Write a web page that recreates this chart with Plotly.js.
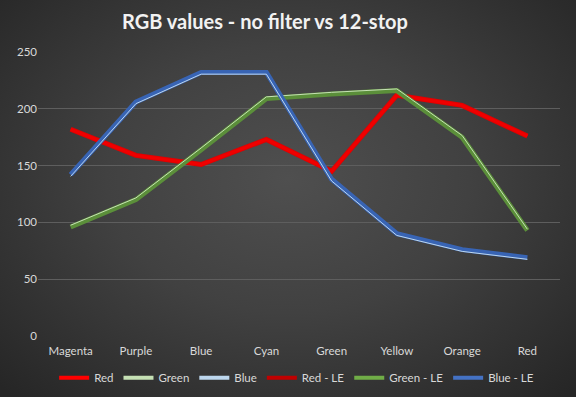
<!DOCTYPE html>
<html>
<head>
<meta charset="utf-8">
<script src="https://cdn.plot.ly/plotly-3.0.1.min.js"></script>
<style>
html,body{margin:0;padding:0;width:576px;height:397px;overflow:hidden;}
body{background:radial-gradient(ellipse 70% 75% at 50% 45%, #4f4f4f 0%, #414141 45%, #262626 100%);}
#chart{width:576px;height:397px;}
</style>
</head>
<body>
<div id="chart"></div>
<script>
const categories = ["Magenta","Purple","Blue","Cyan","Green","Yellow","Orange","Red"];
const redNoFilter   = [182, 159, 151, 173, 145, 212, 203, 176];
const greenNoFilter = [97.5, 121.5, 165.5, 210.5, 214.5, 217.5, 176.5, 94];
const blueNoFilter  = [140.5, 204.5, 230.5, 230.5, 136.5, 88.5, 74.5, 67.5];
const redLE   = [182, 159, 151, 173, 145, 212, 203, 176];
const greenLE = [96, 120, 164, 209, 213, 216, 175, 93];
const blueLE  = [142, 206, 232, 232, 138, 90, 76, 69];
const yTicks = [0, 50, 100, 150, 200, 250];
const seriesNames = ['Red', 'Green', 'Blue', 'Red - LE', 'Green - LE', 'Blue - LE'];
const legendColors = ['#ff0000', '#c5e0b4', '#bdd7ee', '#c00000', '#70ad47', '#4472c4'];

function tr(y, color, width){
  return {x: categories, y: y, type: 'scatter', mode: 'lines', showlegend: false,
    line: {color: color, width: width}};
}
const data = [
  tr(redLE, '#e00000', 5),
  tr(redNoFilter, '#f00000', 3),
  tr(greenLE, '#5b8f3a', 5),
  tr(greenNoFilter, '#c5e0b4', 1),
  tr(blueLE, '#3864b4', 5),
  tr(blueNoFilter, '#bdd7ee', 1)
];
seriesNames.forEach(function(n, i){
  data.push({x: categories, y: categories.map(function(){return null;}), name: n, type: 'scatter',
    mode: 'lines', line: {color: legendColors[i], width: 4}, showlegend: true});
});
const F = 'Lato, "Open Sans", sans-serif';
const layout = {
  width: 576, height: 397,
  paper_bgcolor: 'rgba(0,0,0,0)', plot_bgcolor: 'rgba(0,0,0,0)',
  margin: {l: 38, r: 16, t: 52, b: 61, autoexpand: false},
  title: {text: '<b>RGB values - no filter vs 12-stop</b>', x: 0.46, xanchor: 'center', y: 0.945, yanchor: 'middle',
    font: {family: F, size: 20, color: '#f2f2f2'}},
  xaxis: {type: 'category', range: [-0.5, 7.5], showgrid: false, zeroline: false, showline: false,
    ticks: 'outside', ticklen: 4, tickcolor: 'rgba(0,0,0,0)',
    tickfont: {family: F, size: 11.5, color: '#d9d9d9'}},
  yaxis: {range: [0, 250], tickvals: yTicks, showgrid: true, gridcolor: '#5e5e5e', gridwidth: 1,
    zeroline: false, showline: false, ticks: '',
    tickfont: {family: F, size: 11.5, color: '#d9d9d9'}},
  legend: {orientation: 'h', x: 0.515, xanchor: 'center', xref: 'container', yref: 'container', y: 0.085, yanchor: 'top',
    font: {family: F, size: 11.5, color: '#d9d9d9'},
    itemwidth: 30, tracegroupgap: 0, bgcolor: 'rgba(0,0,0,0)'},
  showlegend: true
};
Plotly.newPlot('chart', data, layout, {displayModeBar: false, staticPlot: true});
</script>
</body>
</html>
